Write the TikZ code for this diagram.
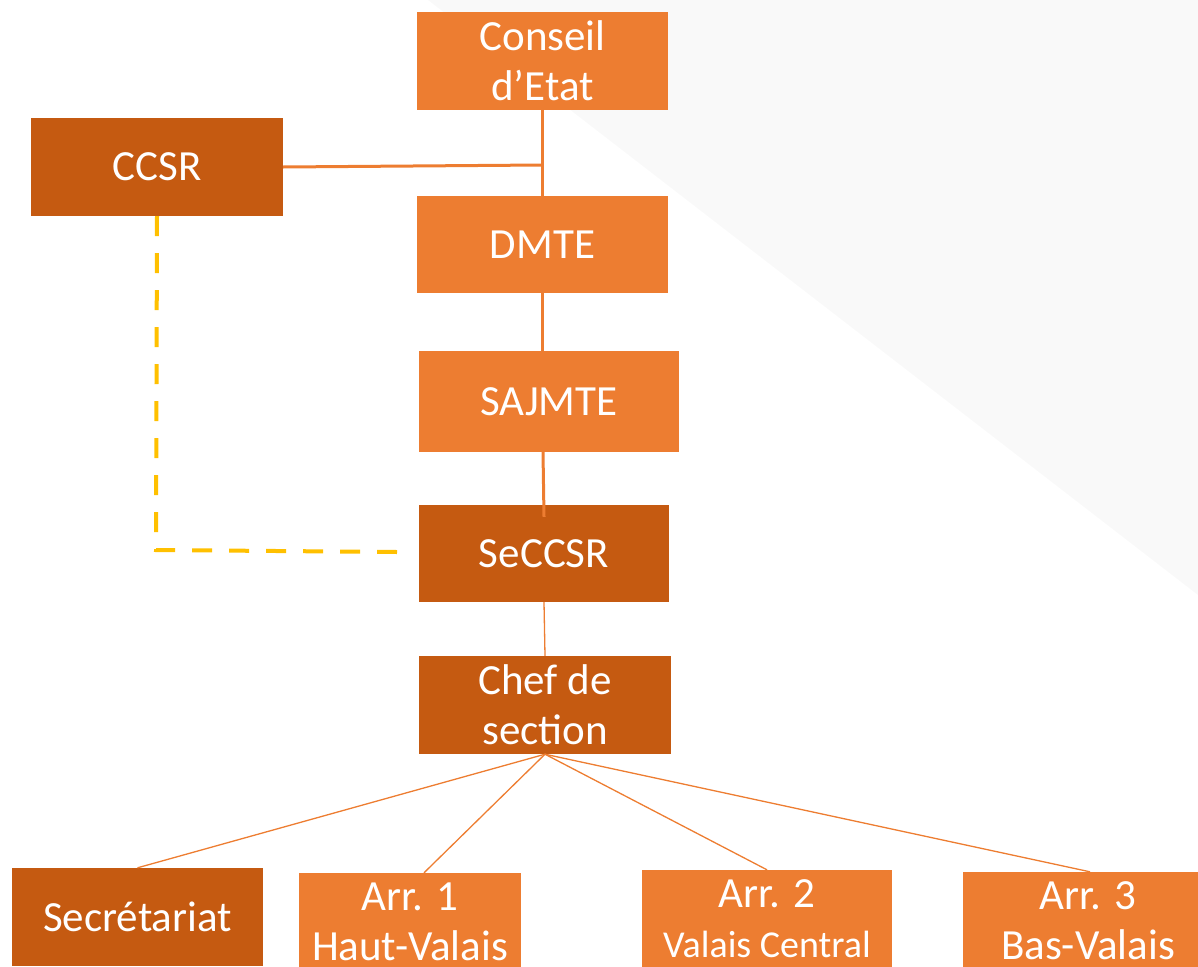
\documentclass[tikz,border=0pt]{standalone}
\usepackage{fontspec}
\setmainfont{Carlito}
\definecolor{orangeL}{HTML}{ED7D31}
\definecolor{orangeD}{HTML}{C55A11}
\definecolor{goldline}{HTML}{FFC000}
\definecolor{greybg}{HTML}{F9F9F9}
\begin{document}
\begin{tikzpicture}[x=1pt,y=-1pt,
  box/.style={rectangle, inner sep=0pt, text=white, font=\fontsize{43}{50}\selectfont, align=center, anchor=center},
  light/.style={box, fill=orangeL},
  dark/.style={box, fill=orangeD},
  conn/.style={draw=orangeL, line width=3pt},
  thinconn/.style={draw=orangeL, line width=1.3pt},
  golddash/.style={draw=goldline, line width=4pt, dash pattern=on 20pt off 17pt}
]
\useasboundingbox (0,0) rectangle (1198,966);
\clip (0,0) rectangle (1198,966);
\fill[greybg] (428,0) -- (1198,595) -- (1198,0) -- cycle;

\node[light, minimum width=251pt, minimum height=97pt] (ce) at (542.5,61) {Conseil\\d’Etat};
\node[dark, minimum width=252pt, minimum height=98pt] (ccsr) at (157,167) {CCSR};
\node[light, minimum width=251pt, minimum height=97pt] (dmte) at (542.5,244.5) {DMTE};
\node[light, minimum width=260pt, minimum height=101pt] (saj) at (549,401.5) {SAJMTE};
\node[dark, minimum width=250pt, minimum height=97pt] (sec) at (544,553.5) {SeCCSR};
\node[dark, minimum width=252pt, minimum height=98pt] (chef) at (545,705) {Chef de\\section};
\node[dark, minimum width=251pt, minimum height=98pt] (secr) at (137.5,917) {Secrétariat};
\node[light, minimum width=222pt, minimum height=98pt] (arr1) at (410,922) {Arr. 1\\Haut-Valais};
\node[light, minimum width=250pt, minimum height=98pt] (arr2) at (767,919) {Arr. 2\\{\fontsize{38}{50}\selectfont Valais Central}};
\node[light, minimum width=250pt, minimum height=98pt] (arr3) at (1088,921) {Arr. 3\\Bas-Valais};

\coordinate (j) at (542.5,165);
\coordinate (d1) at (156,550);
\coordinate (d2) at (397,552);

\draw[conn] (ce.south) -- (dmte.north);
\draw[conn] (ccsr.east) -- (j);
\draw[conn] (dmte.south) -- (dmte.south |- saj.north);
\draw[conn] ([xshift=-6pt]saj.south) -- ([yshift=-12pt]sec.north);
\draw[thinconn] (sec.south) -- (chef.north);
\draw[thinconn] (chef.south) -- (secr.north);
\draw[thinconn] (chef.south) -- ([xshift=14pt]arr1.north);
\draw[thinconn] (chef.south) -- (arr2.north);
\draw[thinconn] (chef.south) -- ([xshift=2pt]arr3.north);
\draw[golddash] (ccsr.south) -- (d1) -- (d2);
\end{tikzpicture}
\end{document}
